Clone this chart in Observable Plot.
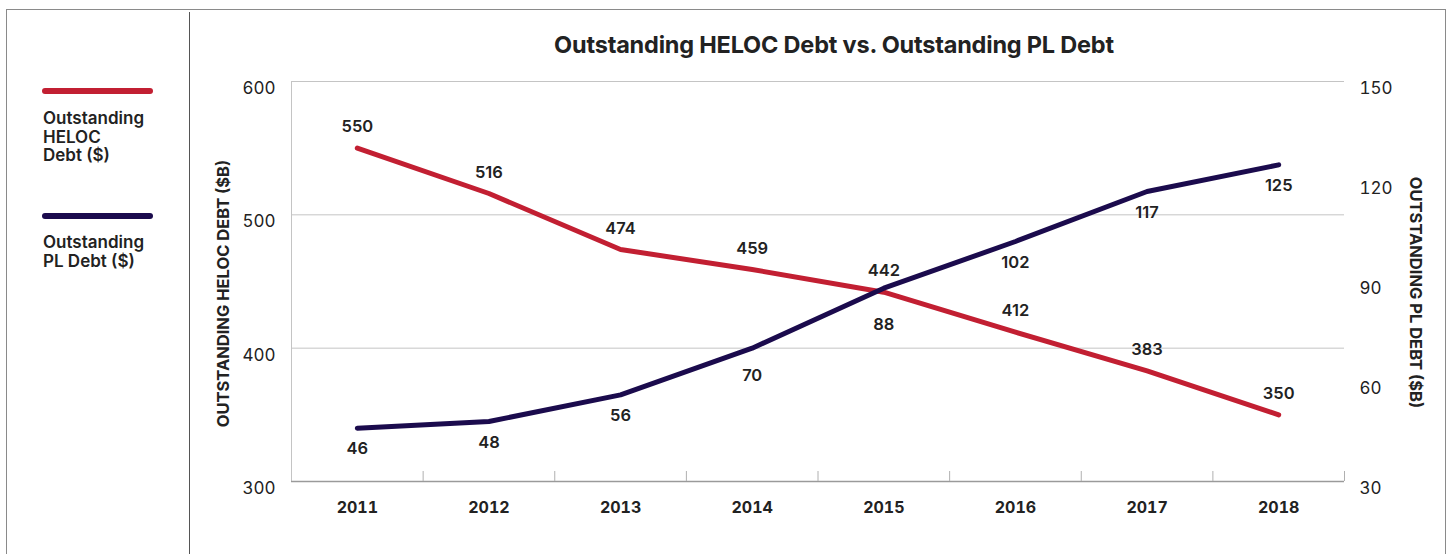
<!DOCTYPE html>
<html>
<head>
<meta charset="utf-8">
<script src="https://cdn.jsdelivr.net/npm/d3@7"></script>
<script src="https://cdn.jsdelivr.net/npm/@observablehq/plot@0.6"></script>
<style>
  body { margin: 0; background: #fff; font-family: Inter, "Open Sans", sans-serif; }
  #wrap { position: relative; width: 1449px; height: 554px; overflow: hidden; }
  #frame { position: absolute; left: 6px; top: 9px; width: 1440px; height: 560px; border: 1px solid #8a8a8a; box-sizing: border-box; }
  #divider { position: absolute; left: 189px; top: 12px; width: 1px; height: 560px; background: #555; }
  .title { position: absolute; left: 0; width: 1668px; top: 31px; text-align: center; font-size: 23.5px; font-weight: 700; color: #222; letter-spacing: -0.2px; line-height: 28px; }
  .sw { position: absolute; left: 42px; width: 111px; height: 6px; border-radius: 3px; }
  .lt { position: absolute; left: 43px; font-size: 17px; font-weight: 600; color: #222; line-height: 18.7px; }
  #chart { position: absolute; left: 0; top: 0; }
</style>
</head>
<body>
<div id="wrap">
  <div id="frame"></div>
  <div id="divider"></div>
  <div class="title">Outstanding HELOC Debt vs. Outstanding PL Debt</div>
  <div class="sw" style="top:88px;background:#c21f32"></div>
  <div class="lt" style="top:109px">Outstanding<br>HELOC<br>Debt ($)</div>
  <div class="sw" style="top:213px;background:#1b0b4d"></div>
  <div class="lt" style="top:233px">Outstanding<br>PL Debt ($)</div>
  <div id="chart"></div>
</div>
<script>
const years = [2011, 2012, 2013, 2014, 2015, 2016, 2017, 2018];
const heloc = [550, 516, 474, 459, 442, 412, 383, 350];
const pl = [46, 48, 56, 70, 88, 102, 117, 125];
const leftTicks = [300, 400, 500, 600];
const rightTicks = [30, 60, 90, 120, 150];

// right axis maps PL [30,150] onto the HELOC domain [300,600]
const toLeft = v => 300 + (v - 30) * 2.5;
const fromLeft = v => Math.round(30 + (v - 300) / 2.5);

const data = years.map((y, i) => ({year: y, heloc: heloc[i], pl: pl[i], plL: toLeft(pl[i])}));
const bounds = years.map(y => y + 0.5);

const font = "Inter, 'Open Sans', sans-serif";
const lbl = {fontSize: 16.5, fontWeight: 600, fill: "#222"};

const chart = Plot.plot({
  width: 1449,
  height: 554,
  marginLeft: 291,
  marginRight: 105,
  marginTop: 81,
  marginBottom: 73,
  style: {fontFamily: font, background: "transparent", overflow: "visible"},
  x: {domain: [2010.5, 2018.5]},
  y: {domain: [300, 600]},
  marks: [
    Plot.ruleY([400, 500, 600], {stroke: "#c4c4c4", strokeWidth: 1}),
    Plot.ruleX([2010.5], {stroke: "#c4c4c4", strokeWidth: 1}),
    Plot.ruleY([300], {stroke: "#9a9a9a", strokeWidth: 1.5}),
    Plot.ruleX(bounds, {y1: 300, y2: 307.5, stroke: "#b0b0b0", strokeWidth: 1}),
    Plot.axisY(leftTicks, {anchor: "left", tickSize: 0, tickPadding: 16, dy: 7, fontSize: 17, fill: "#222", label: null}),
    Plot.axisY(rightTicks.map(toLeft), {anchor: "right", tickSize: 0, tickPadding: 15, dy: 7, fontSize: 17, fill: "#222", tickFormat: fromLeft, label: null}),
    Plot.axisX(years, {tickSize: 0, tickPadding: 20, fontSize: 16, fontWeight: 700, fill: "#222", tickFormat: d => String(d), label: null}),
    Plot.lineY(data, {x: "year", y: "heloc", stroke: "#c21f32", strokeWidth: 5, strokeLinecap: "round", strokeLinejoin: "round"}),
    Plot.lineY(data, {x: "year", y: "plL", stroke: "#1b0b4d", strokeWidth: 5, strokeLinecap: "round", strokeLinejoin: "round"}),
    Plot.text(data, {x: "year", y: "heloc", text: d => String(d.heloc), dy: -21, ...lbl}),
    Plot.text(data.filter(d => d.year !== 2014 && d.year !== 2015), {x: "year", y: "plL", text: d => String(d.pl), dy: 21, ...lbl}),
    Plot.text(data.filter(d => d.year === 2014), {x: "year", y: "plL", text: d => String(d.pl), dy: 28, ...lbl}),
    Plot.text(data.filter(d => d.year === 2015), {x: "year", y: "plL", text: d => String(d.pl), dy: 37, ...lbl}),
    Plot.text(["OUTSTANDING HELOC DEBT ($B)"], {frameAnchor: "left", textAnchor: "middle", dx: -68, dy: 12, rotate: -90, fontSize: 16.5, fontWeight: 700, fill: "#222"}),
    Plot.text(["OUTSTANDING PL DEBT ($B)"], {frameAnchor: "right", textAnchor: "middle", dx: 71, dy: 11, rotate: 90, fontSize: 16.5, fontWeight: 700, fill: "#222"})
  ]
});
document.getElementById("chart").appendChild(chart);
</script>
</body>
</html>
